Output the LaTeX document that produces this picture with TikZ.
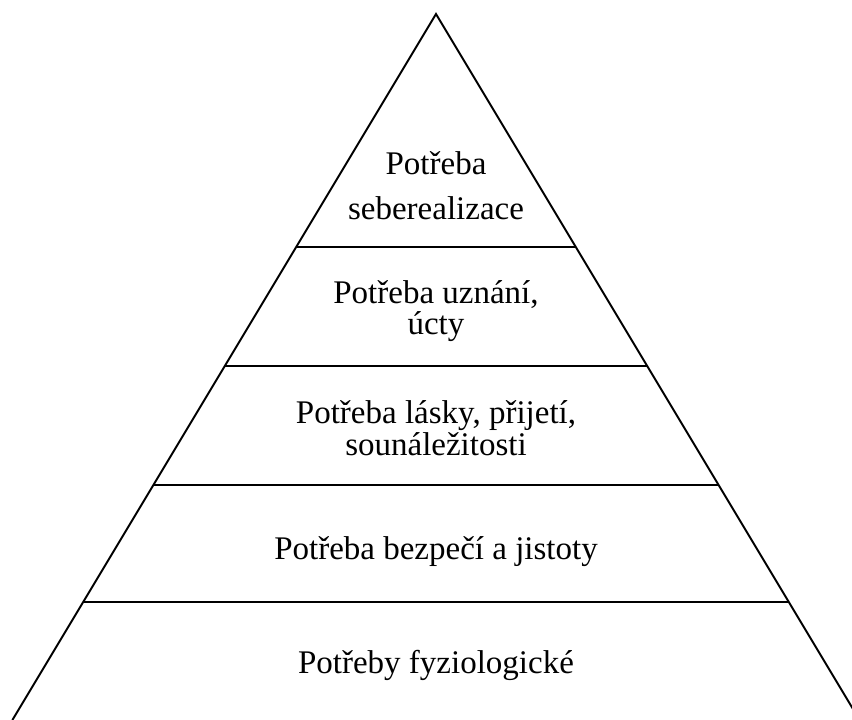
\documentclass[tikz,border=0pt]{standalone}
\usepackage{fontspec}
\setmainfont{Liberation Serif}
\begin{document}
\begin{tikzpicture}[x=1pt,y=-1pt,
  edge/.style={line width=1.9pt, black, line join=miter},
  lbl/.style={anchor=base, inner sep=0pt, font=\fontsize{33}{36}\selectfont}]
\useasboundingbox (0,0) rectangle (852,720);
\clip (0,0) rectangle (852,720);
% triangle
\coordinate (apex) at (436,14);
\coordinate (bl) at (12.4,720);
\coordinate (br) at (859.6,720);
\draw[edge] (bl) -- (apex) -- (br);
% level lines
\foreach \n/\yy in {1/247,2/366,3/485,4/602}{
  \pgfmathsetmacro{\dx}{0.6*(\yy-14)}
  \coordinate (l\n) at ({436-\dx},\yy);
  \coordinate (r\n) at ({436+\dx},\yy);
  \draw[edge] (l\n) -- (r\n);
}
% labels
\node[lbl] (t1a) at (436,174) {Potřeba};
\node[lbl] (t1b) at (436,219) {seberealizace};
\node[lbl] (t2a) at (436,303) {Potřeba uznání,};
\node[lbl] (t2b) at (436,334) {úcty};
\node[lbl] (t3a) at (436,423) {Potřeba lásky, přijetí,};
\node[lbl] (t3b) at (436,455) {sounáležitosti};
\node[lbl] (t4) at (436,559) {Potřeba bezpečí a jistoty};
\node[lbl] (t5) at (436,673) {Potřeby fyziologické};
\end{tikzpicture}
\end{document}
